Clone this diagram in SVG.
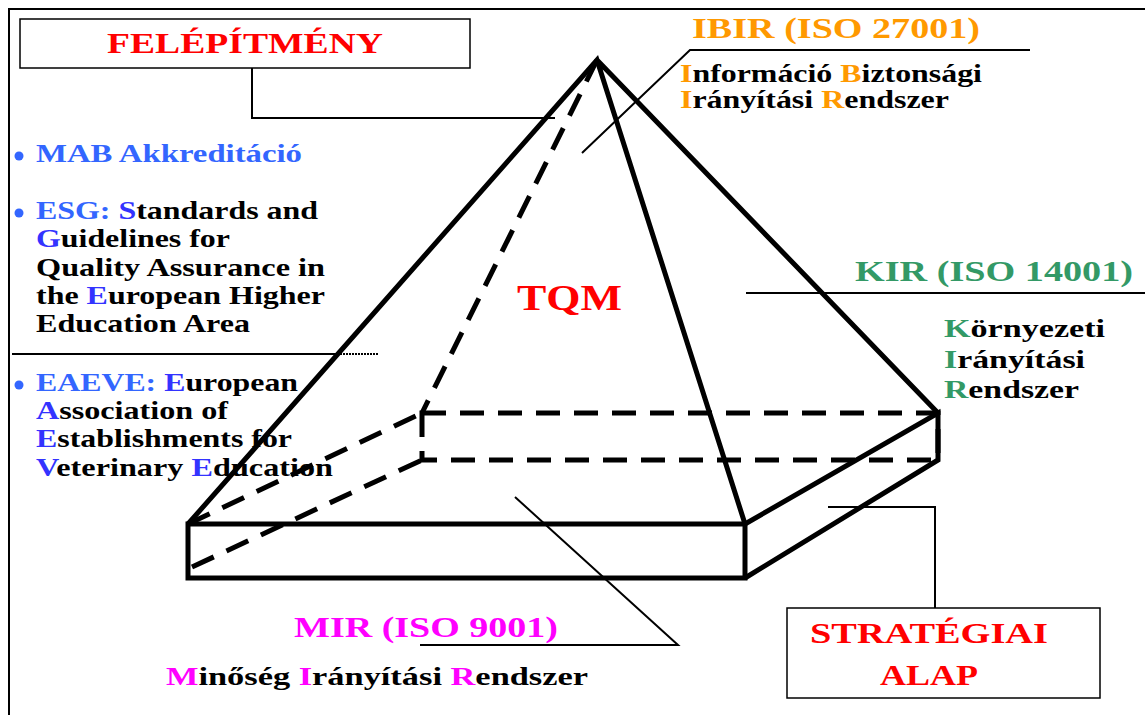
<svg xmlns="http://www.w3.org/2000/svg" width="1145" height="715" viewBox="0 0 1145 715">
<style>
text{font-family:"Liberation Serif","Times New Roman",serif;font-weight:bold}
.h{font-size:30px}
.b{font-size:25px;fill:#000}
.red{fill:#FF0000}.org{fill:#FF9900}.grn{fill:#339966}.mag{fill:#FF00FF}.blu{fill:#3366FF}.blu2{fill:#3333FF}
.thick{stroke:#000;stroke-width:5;fill:none;stroke-linejoin:miter}
.dash{stroke:#000;stroke-width:5;fill:none;stroke-dasharray:24 14}
.thin{stroke:#000;stroke-width:2;fill:none}
.box{fill:#fff;stroke:#000;stroke-width:1.5}
</style>
<rect width="1145" height="715" fill="#fff"/>
<path d="M9,715 V9 H1145" class="thin" stroke="#333"/>

<g id="connectors">
<polyline class="thin" points="252,68 252,118 555,118"/>
<polyline class="thin" points="582,153 690,50 1030,50" stroke-width="1.5"/>
<line class="thin" x1="746" y1="293" x2="1145" y2="293"/>
<line class="thin" x1="12" y1="354" x2="340" y2="354"/>
<line class="thin" x1="340" y1="354" x2="378" y2="354" stroke-dasharray="2 1" stroke-width="1.5"/>
<polyline class="thin" points="515,497 678,645 420,645"/>
<polyline class="thin" points="828,507 935,507 935,608"/>
</g>

<g id="pyramid">
<path class="dash" d="M597,60 L422,413"/>
<rect class="dash" x="422" y="413" width="516" height="47"/>
<path class="dash" d="M188,524 L422,413 M192,567 L422,460"/>
<path class="thick" d="M188,524 L597,60 L745,524 M597,60 L938,413"/>
<rect class="thick" x="188" y="524" width="557" height="54"/>
<path class="thick" d="M745,524 L938,413 L938,460 L745,578"/>
</g>

<g id="felepitmeny">
<rect class="box" x="20" y="19" width="450" height="49"/>
<text class="h red" x="107" y="53" textLength="276" lengthAdjust="spacingAndGlyphs">FELÉPÍTMÉNY</text>
</g>

<g id="ibir">
<text class="h org" x="692" y="38" textLength="288" lengthAdjust="spacingAndGlyphs">IBIR (ISO 27001)</text>
<text class="b" x="680" y="82" textLength="302" lengthAdjust="spacingAndGlyphs"><tspan class="org">I</tspan>nformáció <tspan class="org">B</tspan>iztonsági</text>
<text class="b" x="680" y="108" textLength="269" lengthAdjust="spacingAndGlyphs"><tspan class="org">I</tspan>rányítási <tspan class="org">R</tspan>endszer</text>
</g>

<g id="left-list">
<circle cx="19" cy="156" r="4.5" class="blu"/>
<text class="b blu" x="36" y="162" textLength="266" lengthAdjust="spacingAndGlyphs">MAB Akkreditáció</text>
<circle cx="19" cy="213" r="4.5" class="blu"/>
<text class="b" x="36" y="219" textLength="282" lengthAdjust="spacingAndGlyphs"><tspan class="blu">ESG: </tspan><tspan class="blu2">S</tspan>tandards and</text>
<text class="b" x="36" y="247" textLength="194" lengthAdjust="spacingAndGlyphs"><tspan class="blu2">G</tspan>uidelines for</text>
<text class="b" x="36" y="276" textLength="289" lengthAdjust="spacingAndGlyphs">Quality Assurance in</text>
<text class="b" x="36" y="304" textLength="289" lengthAdjust="spacingAndGlyphs">the <tspan class="blu2">E</tspan>uropean Higher</text>
<text class="b" x="36" y="332" textLength="214" lengthAdjust="spacingAndGlyphs">Education Area</text>
<circle cx="19" cy="385" r="4.5" class="blu"/>
<text class="b" x="36" y="391" textLength="262" lengthAdjust="spacingAndGlyphs"><tspan class="blu">EAEVE: </tspan><tspan class="blu2">E</tspan>uropean</text>
<text class="b" x="36" y="419" textLength="192" lengthAdjust="spacingAndGlyphs"><tspan class="blu2">A</tspan>ssociation of</text>
<text class="b" x="36" y="447" textLength="256" lengthAdjust="spacingAndGlyphs"><tspan class="blu2">E</tspan>stablishments for</text>
<text class="b" x="36" y="476" textLength="297" lengthAdjust="spacingAndGlyphs"><tspan class="blu2">V</tspan>eterinary <tspan class="blu2">E</tspan>ducation</text>
</g>

<g id="tqm">
<text class="red" style="font-size:35px" x="517" y="310" textLength="105" lengthAdjust="spacingAndGlyphs">TQM</text>
</g>

<g id="kir">
<text class="h grn" x="855" y="281" textLength="278" lengthAdjust="spacingAndGlyphs">KIR (ISO 14001)</text>
<text class="b" x="944" y="337" textLength="161" lengthAdjust="spacingAndGlyphs"><tspan class="grn">K</tspan>örnyezeti</text>
<text class="b" x="944" y="368" textLength="141" lengthAdjust="spacingAndGlyphs"><tspan class="grn">I</tspan>rányítási</text>
<text class="b" x="944" y="398" textLength="135" lengthAdjust="spacingAndGlyphs"><tspan class="grn">R</tspan>endszer</text>
</g>

<g id="mir">
<text class="h mag" x="294" y="637" textLength="264" lengthAdjust="spacingAndGlyphs">MIR (ISO 9001)</text>
<text class="b" x="166" y="685" textLength="422" lengthAdjust="spacingAndGlyphs"><tspan class="mag">M</tspan>inőség <tspan class="mag">I</tspan>rányítási <tspan class="mag">R</tspan>endszer</text>
</g>

<g id="strategiai">
<rect class="box" x="787" y="608" width="313" height="90"/>
<text class="h red" x="810" y="643" textLength="238" lengthAdjust="spacingAndGlyphs">STRATÉGIAI</text>
<text class="h red" x="880" y="685" textLength="98" lengthAdjust="spacingAndGlyphs">ALAP</text>
</g>
</svg>
